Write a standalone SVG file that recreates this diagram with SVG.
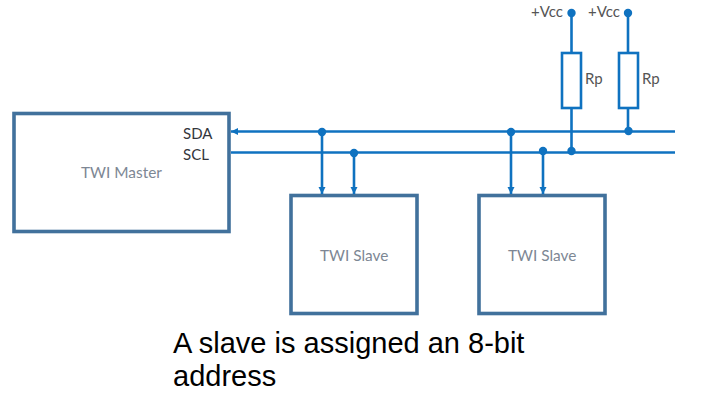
<svg xmlns="http://www.w3.org/2000/svg" width="713" height="412" viewBox="0 0 713 412">
<style>
.box{fill:#fff;stroke:#41719c;stroke-width:3.6}
.wire{fill:none;stroke:#0f72c0;stroke-width:2.6}
.res{fill:#fff;stroke:#0f72c0;stroke-width:2.6}
.dot{fill:#0f72c0}
.lbl{font-family:Lato,"Noto Sans",sans-serif;font-size:15px;fill:#555}
.sig{font-family:Lato,"Noto Sans",sans-serif;font-size:15px;fill:#33363c}
.name{font-family:Lato,"Noto Sans",sans-serif;font-size:15.400px;fill:#7d8794}
.cap{font-family:"Liberation Sans",Arial,sans-serif;font-size:29px;fill:#000}
</style>
<defs>
<marker id="ah" markerUnits="userSpaceOnUse" markerWidth="8" markerHeight="8" refX="7" refY="4" orient="auto">
<path d="M0,0.500L7,4L0,7.500z" fill="#0f72c0"/>
</marker>
</defs>
<g id="master"><rect class="box" x="14" y="113.500" width="215" height="118"/>
<text class="sig" x="183" y="139">SDA</text><text class="sig" x="183" y="160">SCL</text>
<text class="name" x="81" y="178">TWI Master</text></g>
<g id="slave1"><rect class="box" x="291" y="195.500" width="126" height="118"/><text class="name" x="320" y="261">TWI Slave</text></g>
<g id="slave2"><rect class="box" x="479" y="195.500" width="126" height="118"/><text class="name" x="508" y="261">TWI Slave</text></g>
<g id="connectors">
<path class="wire" d="M675,131.500H231" marker-end="url(#ah)"/>
<path class="wire" d="M231,152.500H675"/>
<path class="wire" d="M322,132V194" marker-end="url(#ah)"/>
<path class="wire" d="M354,152V194" marker-end="url(#ah)"/>
<path class="wire" d="M511,132V194" marker-end="url(#ah)"/>
<path class="wire" d="M543,151V194" marker-end="url(#ah)"/>
<path class="wire" d="M571.500,13V152"/>
<path class="wire" d="M628,13V131"/>
<circle class="dot" cx="322" cy="132" r="4.200"/><circle class="dot" cx="354" cy="153" r="4.200"/>
<circle class="dot" cx="511" cy="132" r="4.200"/><circle class="dot" cx="543" cy="151" r="4.200"/>
<circle class="dot" cx="571.500" cy="151" r="4.200"/><circle class="dot" cx="628.500" cy="131" r="4.200"/>
<circle class="dot" cx="571.500" cy="13" r="4.200"/><circle class="dot" cx="628" cy="13" r="4.200"/>
</g>
<g id="rp1"><rect class="res" x="562" y="53" width="19" height="55"/><text class="lbl" x="585" y="84">Rp</text><text class="lbl" x="531" y="17">+Vcc</text></g>
<g id="rp2"><rect class="res" x="619" y="53" width="19" height="55"/><text class="lbl" x="642" y="84">Rp</text><text class="lbl" x="588" y="17">+Vcc</text></g>
<text class="cap" x="173" y="353">A slave is assigned an 8-bit</text>
<text class="cap" x="173" y="386">address</text>
</svg>
